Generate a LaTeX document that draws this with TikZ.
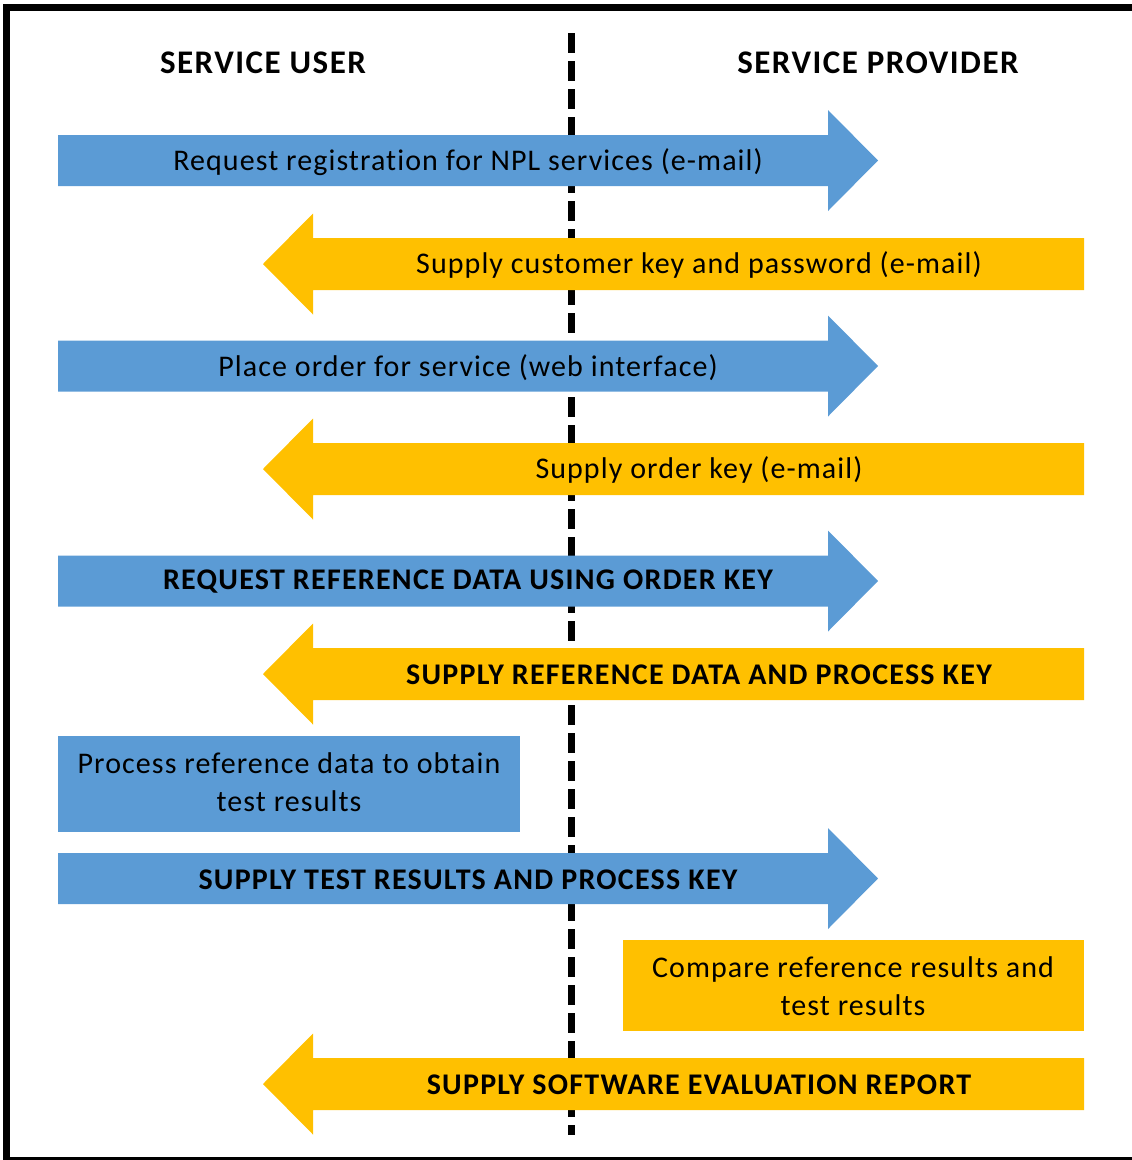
\documentclass[tikz,border=0pt]{standalone}
\usepackage{fontspec}
\setmainfont{Carlito}
\newfontfamily\lblfont[LetterSpace=3.6,Ligatures=NoCommon]{Carlito}
\newfontfamily\blblfont[LetterSpace=4.2,Ligatures=NoCommon]{Carlito}
\newfontfamily\hdrfont[LetterSpace=4.5,Ligatures=NoCommon]{Carlito}
\definecolor{ablue}{HTML}{5B9BD5}
\definecolor{ayellow}{HTML}{FFC000}
\begin{document}
\begin{tikzpicture}[x=1pt,y=-1pt,
  lbl/.style={inner sep=0pt,font=\lblfont\fontsize{30}{38}\selectfont,align=center},
  blbl/.style={inner sep=0pt,font=\blblfont\fontsize{30}{38}\selectfont\bfseries,align=center},
  hdr/.style={inner sep=0pt,font=\hdrfont\fontsize{33}{38}\selectfont\bfseries},
  divider/.style={line width=7pt,dash pattern=on 20pt off 8pt}]
\useasboundingbox (0,0) rectangle (1132,1160);
\clip (0,0) rectangle (1132,1160);
% frame
\draw[line width=7pt] (6.5,7.5) rectangle (1140,1160.5);
% divider (behind the arrows)
\coordinate (dtop) at (571,33);
\coordinate (dbot) at (571,1135);
\draw[divider] (dtop) -- (dbot);
% arrow shapes
\newcommand\rarrowshape[1]{\fill[ablue] (58,#1-25.5) -- (828,#1-25.5) -- (828,#1-50.5) -- (878,#1) -- (828,#1+50.5) -- (828,#1+25.5) -- (58,#1+25.5) -- cycle;}
\newcommand\larrowshape[1]{\fill[ayellow] (1084,#1-26) -- (313,#1-26) -- (313,#1-50.5) -- (263,#1) -- (313,#1+50.5) -- (313,#1+26) -- (1084,#1+26) -- cycle;}
\rarrowshape{160.5}
\larrowshape{264}
\rarrowshape{366}
\larrowshape{469}
\rarrowshape{581}
\larrowshape{674}
\fill[ablue] (58,736) rectangle (520,832);
\rarrowshape{878.5}
\fill[ayellow] (623,940) rectangle (1084,1031);
\larrowshape{1084}
% headers
\node[hdr] (huser) at (263,63) {SERVICE USER};
\node[hdr] (hprov) at (878,63) {SERVICE PROVIDER};
% labels
\node[lbl] (t1) at (468,162) {Request registration for NPL services (e-mail)};
\node[lbl] (t2) at (699,265) {Supply customer key and password (e-mail)};
\node[lbl] (t3) at (468,368) {Place order for service (web interface)};
\node[lbl] (t4) at (699,470) {Supply order key (e-mail)};
\node[blbl] (t5) at (468,582) {REQUEST REFERENCE DATA USING ORDER KEY};
\node[blbl] (t6) at (699,675) {SUPPLY REFERENCE DATA AND PROCESS KEY};
\node[lbl] (t7) at (289,782) {Process reference data to obtain\\test results};
\node[blbl] (t8) at (468,880) {SUPPLY TEST RESULTS AND PROCESS KEY};
\node[lbl] (t9) at (853,986) {Compare reference results and\\test results};
\node[blbl] (t10) at (699,1085) {SUPPLY SOFTWARE EVALUATION REPORT};
\end{tikzpicture}
\end{document}
